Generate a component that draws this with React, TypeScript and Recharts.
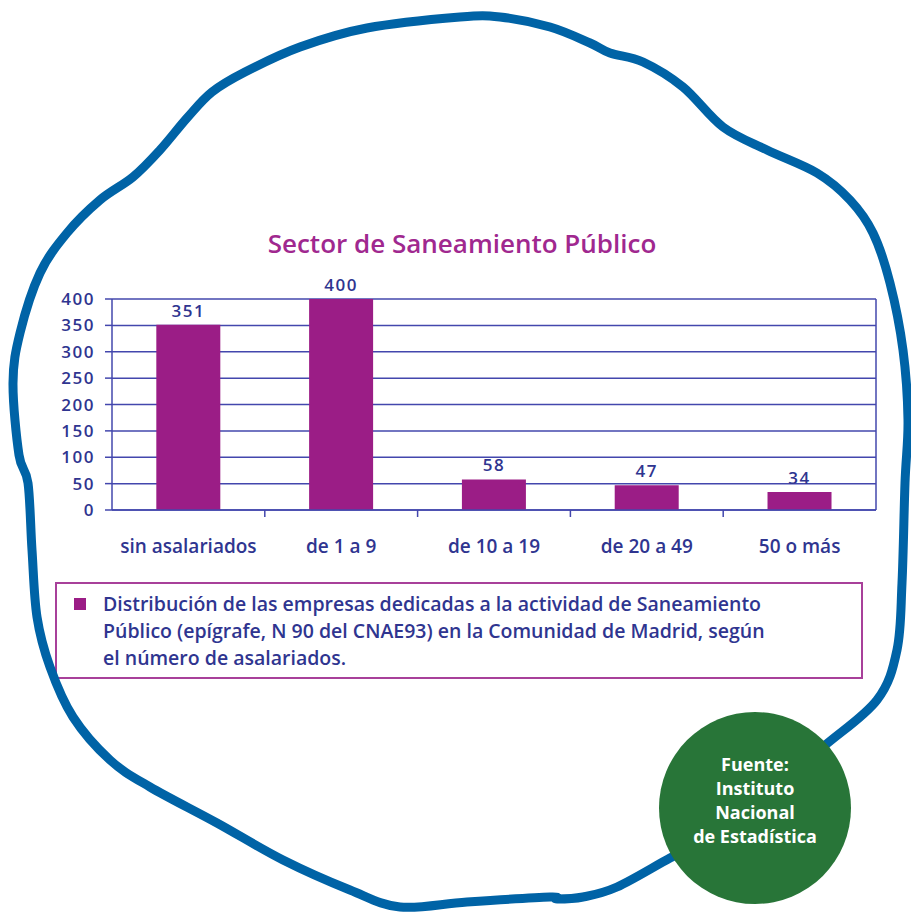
import { BarChart, Bar, XAxis, YAxis, CartesianGrid, LabelList } from 'recharts'

const categories = ['sin asalariados', 'de 1 a 9', 'de 10 a 19', 'de 20 a 49', '50 o más']
const empresas = [351, 400, 58, 47, 34]
const yTicks = [0, 50, 100, 150, 200, 250, 300, 350, 400]
const boundaryTicks = [1, 2, 3, 4]

// slot = middle of each category band on the 0..5 boundary axis
const data = categories.map((tramo, i) => ({ tramo, empresas: empresas[i], slot: i + 0.5 }))

const NAVY = '#2f3590'
const GRID = '#4347ad'
const BAR = '#9b1d86'
const FONT = '"Open Sans", Lato, sans-serif'

// decorative blob outline around the chart
const border = [
  [460, 17], [500, 17], [550, 27], [590, 43], [610, 53], [643, 62], [683, 87], [723, 127],
  [767, 150], [817, 173], [850, 200], [873, 233], [890, 283], [903, 350], [908, 420],
  [905, 483], [902, 583], [897, 650], [877, 700], [823, 747], [760, 800], [700, 843],
  [670, 858], [617, 887], [583, 897], [557, 899], [550, 897], [467, 902], [400, 907],
  [350, 890], [283, 860], [217, 823], [150, 787], [110, 760], [73, 717], [50, 667],
  [37, 617], [32, 550], [28, 483], [19, 455], [13, 383], [20, 333], [40, 273], [67, 233],
  [100, 200], [133, 177], [160, 150], [187, 118], [212, 92], [245, 72], [300, 47], [367, 28],
]

function smoothClosed(pts: number[][]) {
  const n = pts.length
  let d = `M${pts[0][0]},${pts[0][1]}`
  for (let i = 0; i < n; i++) {
    const p0 = pts[(i - 1 + n) % n], p1 = pts[i], p2 = pts[(i + 1) % n], p3 = pts[(i + 2) % n]
    const c1x = p1[0] + (p2[0] - p0[0]) / 6, c1y = p1[1] + (p2[1] - p0[1]) / 6
    const c2x = p2[0] - (p3[0] - p1[0]) / 6, c2y = p2[1] - (p3[1] - p1[1]) / 6
    d += ` C${c1x},${c1y} ${c2x},${c2y} ${p2[0]},${p2[1]}`
  }
  return d + 'Z'
}

const numTick = { fill: NAVY, fontSize: 17, fontWeight: 600, fontFamily: FONT, letterSpacing: 1.5 }

// boundary axis only shows its tick marks, not labels
const NoLabel = () => <g />

export default function App() {
  return (
    <div style={{ position: 'absolute', left: 0, top: 0, width: 911, height: 912, background: '#fff', overflow: 'hidden', fontFamily: FONT }}>
      <div style={{ position: 'absolute', left: 0, top: 225, width: 924, textAlign: 'center', fontSize: 26, lineHeight: '36px', color: '#a0288f', fontWeight: 600 }}>
        Sector de Saneamiento Público
      </div>
      <div style={{ position: 'absolute', left: 0, top: 0 }}>
        <BarChart
          width={911}
          height={912}
          data={data}
          margin={{ top: 299, right: 34, bottom: 400, left: 52 }}
          barCategoryGap="29%"
        >
          <CartesianGrid vertical={false} stroke={GRID} strokeWidth={1.5} />
          <XAxis
            type="number"
            dataKey="slot"
            domain={[0, 5]}
            ticks={boundaryTicks}
            allowDataOverflow
            height={1}
            tick={NoLabel}
            tickSize={7}
            axisLine={{ stroke: GRID, strokeWidth: 1.5 }}
            tickLine={{ stroke: GRID, strokeWidth: 1.5 }}
          />
          <XAxis
            xAxisId="cat"
            dataKey="tramo"
            height={1}
            axisLine={false}
            tickLine={false}
            tickSize={0}
            tickMargin={29}
            interval={0}
            tick={{ fill: NAVY, fontSize: 19, fontWeight: 600, fontFamily: FONT }}
          />
          <YAxis
            domain={[0, 400]}
            ticks={yTicks}
            width={60}
            tickSize={7}
            tickMargin={10}
            axisLine={{ stroke: GRID, strokeWidth: 1.5 }}
            tickLine={{ stroke: GRID, strokeWidth: 1.5 }}
            tick={numTick}
          />
          <YAxis
            yAxisId="right"
            orientation="right"
            domain={[0, 400]}
            width={1}
            tick={false}
            tickLine={false}
            axisLine={{ stroke: GRID, strokeWidth: 1.5 }}
          />
          <Bar dataKey="empresas" xAxisId="cat" fill={BAR} isAnimationActive={false}>
            <LabelList dataKey="empresas" position="top" offset={8} {...numTick} />
          </Bar>
        </BarChart>
      </div>
      <div style={{ position: 'absolute', left: 55, top: 582, width: 808, height: 97, boxSizing: 'border-box', border: '2px solid #a8409a' }}>
        <div style={{ position: 'absolute', left: 17, top: 14, width: 12, height: 12, background: BAR }} />
        <div style={{ position: 'absolute', left: 46, top: 6, width: 750, fontSize: 19.5, lineHeight: '27px', fontWeight: 600, color: NAVY }}>
          Distribución de las empresas dedicadas a la actividad de Saneamiento
          <br />
          Público (epígrafe, N 90 del CNAE93) en la Comunidad de Madrid, según
          <br />
          el número de asalariados.
        </div>
      </div>
      <svg width={911} height={912} style={{ position: 'absolute', left: 0, top: 0, pointerEvents: 'none' }}>
        <path d={smoothClosed(border)} fill="none" stroke="#0063a6" strokeWidth={9} strokeLinejoin="round" />
        <circle cx={755} cy={808} r={96} fill="#287538" />
      </svg>
      <div style={{ position: 'absolute', left: 655, top: 752, width: 200, textAlign: 'center', color: '#fff', fontFamily: '"Open Sans", sans-serif', fontWeight: 700, fontSize: 18, lineHeight: '24px' }}>
        Fuente:
        <br />
        Instituto
        <br />
        Nacional
        <br />
        de Estadística
      </div>
    </div>
  )
}
